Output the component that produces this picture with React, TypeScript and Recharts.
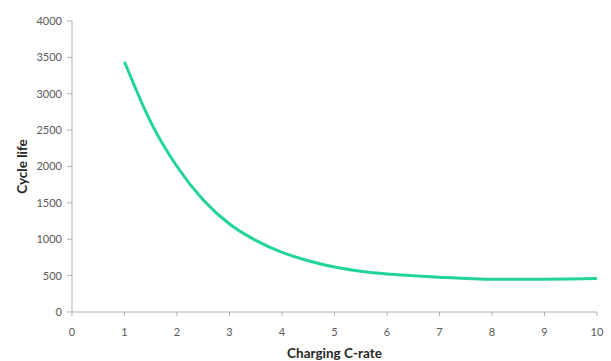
import React from 'react';
import { LineChart, Line, XAxis, YAxis } from 'recharts';

const cRate = [1, 1.5, 2, 2.5, 3, 3.5, 4, 4.5, 5, 5.5, 6, 6.5, 7, 7.5, 8, 8.5, 9, 9.5, 10];
const cycleLife = [3440, 2610, 2000, 1540, 1210, 985, 820, 705, 618, 560, 522, 499, 479, 461, 451, 449, 450, 455, 462];
const xTicks = [0, 1, 2, 3, 4, 5, 6, 7, 8, 9, 10];
const yTicks = [0, 500, 1000, 1500, 2000, 2500, 3000, 3500, 4000];

const data = cRate.map((x, i) => ({ x, y: cycleLife[i] }));

const tickStyle = { fontSize: 11, fill: '#595959', fontFamily: 'Lato' };
const labelStyle = { fontSize: 13.5, fontWeight: 'bold', fill: '#262626', fontFamily: 'Lato' };

export default function App() {
  return (
    <div style={{ position: 'absolute', left: 0, top: 0, background: '#fff' }}>
      <LineChart width={611} height={361} data={data} margin={{ top: 21, right: 14, bottom: 0, left: 0 }}>
        <XAxis
          dataKey="x"
          type="number"
          domain={[0, 10]}
          ticks={xTicks}
          height={49}
          stroke="#b0b0b0"
          tickSize={4}
          tickMargin={12}
          tick={tickStyle}
          label={{ value: 'Charging C-rate', position: 'insideBottom', offset: 3, style: labelStyle }}
        />
        <YAxis
          type="number"
          domain={[0, 4000]}
          ticks={yTicks}
          width={72}
          stroke="#b0b0b0"
          tickSize={5}
          tickMargin={5}
          tick={tickStyle}
          label={{ value: 'Cycle life', angle: -90, position: 'insideLeft', offset: 22, style: { ...labelStyle, textAnchor: 'middle' } }}
        />
        <Line type="monotone" dataKey="y" stroke="#22d39b" strokeWidth={3} dot={false} isAnimationActive={false} />
      </LineChart>
    </div>
  );
}
